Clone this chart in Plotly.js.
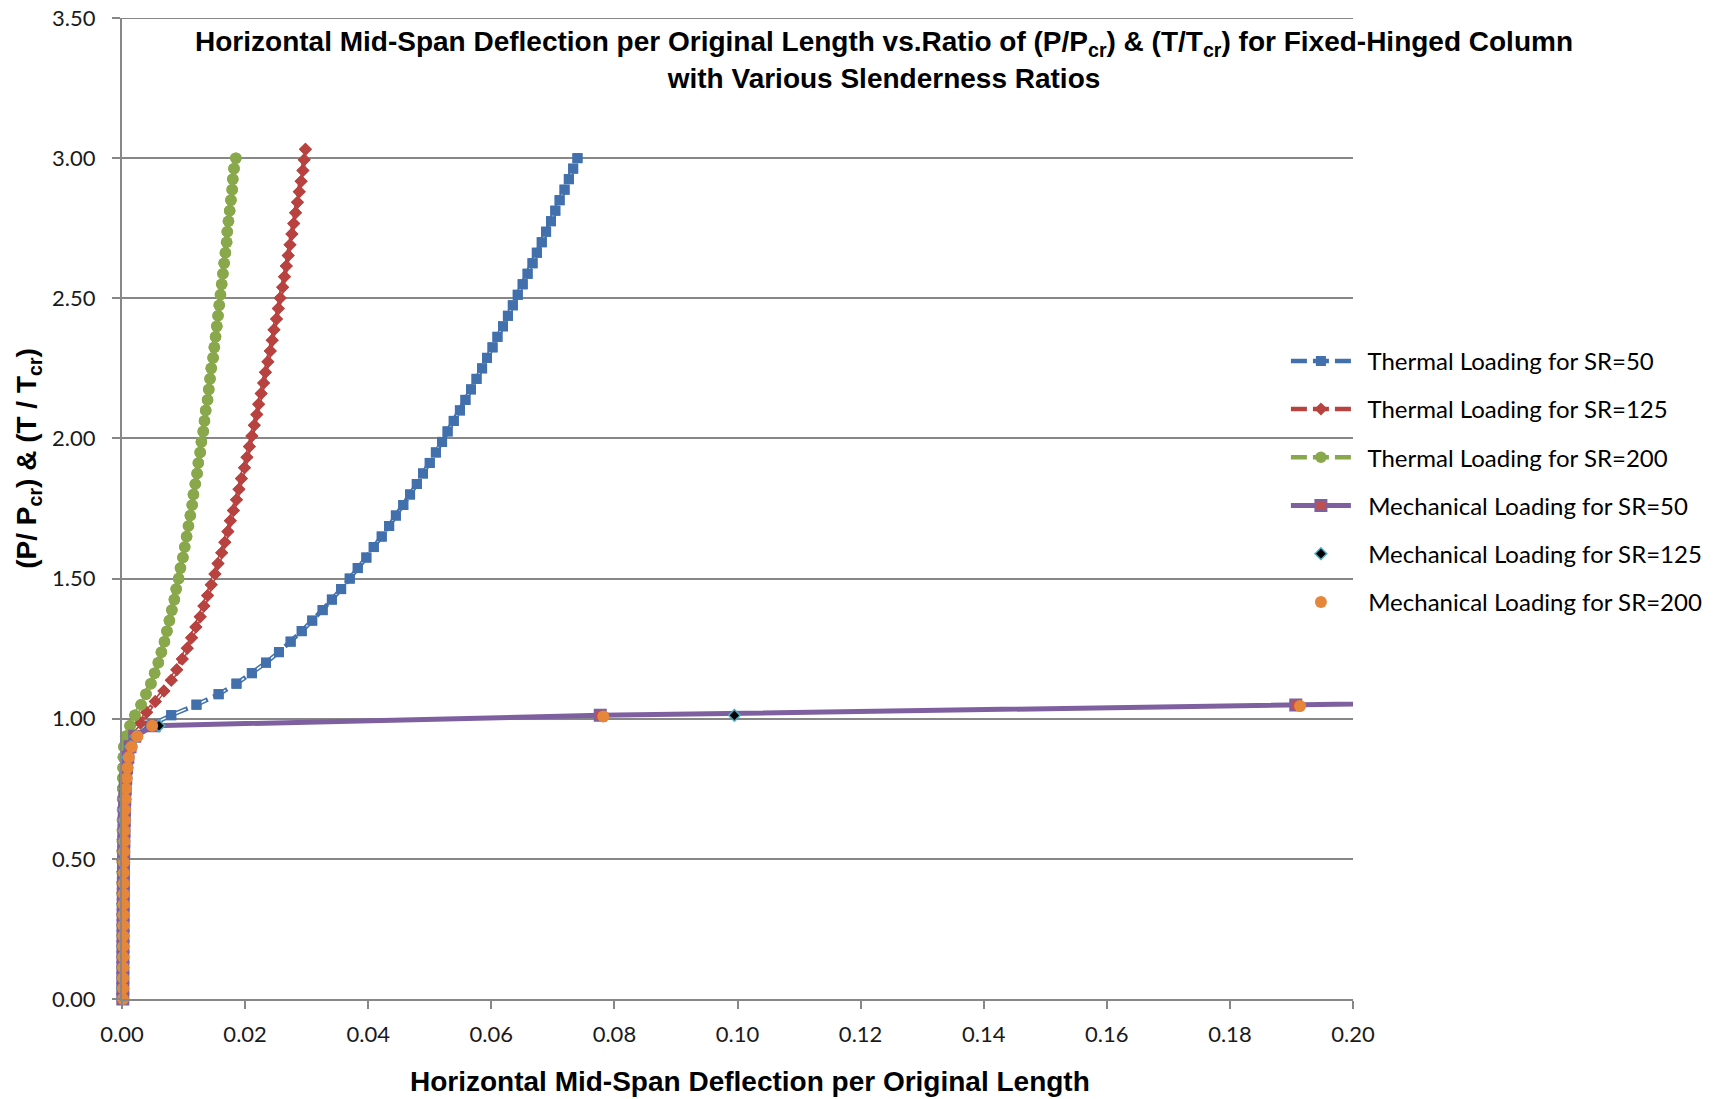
<!DOCTYPE html>
<html>
<head>
<meta charset="utf-8">
<script src="https://cdn.plot.ly/plotly-3.0.1.min.js"></script>
<style>
  html, body { margin: 0; padding: 0; background: #ffffff; }
  #chart { width: 1729px; height: 1099px; }
</style>
</head>
<body>
<div id="chart"></div>
<script>
// Load ratio (T/Tcr) steps used for the thermal runs of SR=50 and SR=200
const thermalRatio = [0, 0.0375, 0.075, 0.1125, 0.15, 0.1875, 0.225, 0.2625, 0.3, 0.3375, 0.375, 0.4125, 0.45, 0.4875, 0.525, 0.5625, 0.6, 0.6375, 0.675, 0.7125, 0.75, 0.7875, 0.825, 0.8625, 0.9, 0.9375, 0.975, 1.0125, 1.05, 1.0875, 1.125, 1.1625, 1.2, 1.2375, 1.275, 1.3125, 1.35, 1.3875, 1.425, 1.4625, 1.5, 1.5375, 1.575, 1.6125, 1.65, 1.6875, 1.725, 1.7625, 1.8, 1.8375, 1.875, 1.9125, 1.95, 1.9875, 2.025, 2.0625, 2.1, 2.1375, 2.175, 2.2125, 2.25, 2.2875, 2.325, 2.3625, 2.4, 2.4375, 2.475, 2.5125, 2.55, 2.5875, 2.625, 2.6625, 2.7, 2.7375, 2.775, 2.8125, 2.85, 2.8875, 2.925, 2.9625, 3.0];

// Load ratio (T/Tcr) steps for the thermal run of SR=125
const thermalRatioSR125 = [0, 0.038, 0.076, 0.114, 0.152, 0.190, 0.227, 0.265, 0.303, 0.341, 0.379, 0.417, 0.455, 0.493, 0.531, 0.569, 0.606, 0.644, 0.682, 0.720, 0.758, 0.796, 0.834, 0.872, 0.910, 0.948, 0.985, 1.023, 1.061, 1.099, 1.137, 1.175, 1.213, 1.251, 1.289, 1.327, 1.364, 1.402, 1.440, 1.478, 1.516, 1.554, 1.592, 1.630, 1.668, 1.706, 1.743, 1.781, 1.819, 1.857, 1.895, 1.933, 1.971, 2.009, 2.047, 2.085, 2.122, 2.160, 2.198, 2.236, 2.274, 2.312, 2.350, 2.388, 2.426, 2.464, 2.501, 2.539, 2.577, 2.615, 2.653, 2.691, 2.729, 2.767, 2.805, 2.843, 2.880, 2.918, 2.956, 2.994, 3.032];

// Mid-span deflection / original length, thermal loading
const thermalDefSR50 = [0.0001, 0.0001, 0.00011, 0.00011, 0.00012, 0.00012, 0.00013, 0.00014, 0.00014, 0.00015, 0.00016, 0.00017, 0.00018, 0.0002, 0.00021, 0.00023, 0.00025, 0.00028, 0.00031, 0.00035, 0.0004, 0.00055, 0.0007, 0.0009, 0.0013, 0.0022, 0.0045, 0.0080, 0.0121, 0.0157, 0.0186, 0.0211, 0.0234, 0.0255, 0.0274, 0.0292, 0.0309, 0.0326, 0.0341, 0.0356, 0.0370, 0.0383, 0.0397, 0.0409, 0.0422, 0.0434, 0.0445, 0.0457, 0.0468, 0.0479, 0.0489, 0.0500, 0.0510, 0.0520, 0.0529, 0.0539, 0.0549, 0.0558, 0.0567, 0.0576, 0.0585, 0.0593, 0.0602, 0.0610, 0.0619, 0.0627, 0.0635, 0.0643, 0.0651, 0.0659, 0.0667, 0.0674, 0.0682, 0.0689, 0.0697, 0.0704, 0.0711, 0.0719, 0.0726, 0.0733, 0.0740];

const thermalDefSR125 = [0.00007, 0.00007, 0.00008, 0.00008, 0.00008, 0.00009, 0.00009, 0.0001, 0.0001, 0.00011, 0.00011, 0.00012, 0.00013, 0.00014, 0.00015, 0.00016, 0.00018, 0.0002, 0.00022, 0.00025, 0.00029, 0.00034, 0.00042, 0.00055, 0.00077, 0.0013, 0.0030, 0.0040, 0.0054, 0.0068, 0.0080, 0.0089, 0.0098, 0.0106, 0.0113, 0.0120, 0.0127, 0.0133, 0.0139, 0.0145, 0.0151, 0.0156, 0.0162, 0.0167, 0.0172, 0.0176, 0.0181, 0.0186, 0.0190, 0.0194, 0.0199, 0.0203, 0.0207, 0.0211, 0.0215, 0.0219, 0.0222, 0.0226, 0.0230, 0.0233, 0.0237, 0.0241, 0.0244, 0.0247, 0.0251, 0.0254, 0.0257, 0.0261, 0.0264, 0.0267, 0.0270, 0.0273, 0.0276, 0.0279, 0.0282, 0.0285, 0.0288, 0.0291, 0.0294, 0.0296, 0.0298];

const thermalDefSR200 = [0.00003, 0.00003, 0.00003, 0.00003, 0.00004, 0.00004, 0.00004, 0.00004, 0.00004, 0.00005, 0.00005, 0.00005, 0.00005, 0.00006, 0.00006, 0.00007, 0.00008, 0.00008, 0.00009, 0.0001, 0.00012, 0.00014, 0.00017, 0.00022, 0.0003, 0.0006, 0.0013, 0.0021, 0.0031, 0.0039, 0.0047, 0.0053, 0.0059, 0.0064, 0.0069, 0.0073, 0.0077, 0.0081, 0.0085, 0.0088, 0.0092, 0.0095, 0.0099, 0.0102, 0.0105, 0.0108, 0.0111, 0.0114, 0.0116, 0.0119, 0.0122, 0.0124, 0.0127, 0.0129, 0.0132, 0.0134, 0.0136, 0.0139, 0.0141, 0.0143, 0.0145, 0.0148, 0.0150, 0.0152, 0.0154, 0.0156, 0.0158, 0.0160, 0.0162, 0.0164, 0.0166, 0.0168, 0.0170, 0.0171, 0.0173, 0.0175, 0.0177, 0.0179, 0.0180, 0.0182, 0.0185];

// Mechanical loading: load ratio (P/Pcr) and deflection per original length
const mechRatioSR50 = [0, 0.0375, 0.075, 0.1125, 0.15, 0.1875, 0.225, 0.2625, 0.3, 0.3375, 0.375, 0.4125, 0.45, 0.4875, 0.525, 0.5625, 0.6, 0.6375, 0.675, 0.7125, 0.75, 0.7875, 0.825, 0.8625, 0.9, 0.9375, 0.975, 1.012, 1.049, 1.085];
const mechDefSR50 = [0.00013, 0.000135, 0.00014, 0.000146, 0.000153, 0.00016, 0.000168, 0.000176, 0.000186, 0.000196, 0.000208, 0.000221, 0.000236, 0.000254, 0.000274, 0.000297, 0.000325, 0.000359, 0.0004, 0.000452, 0.00052, 0.000612, 0.000743, 0.000945, 0.0013, 0.00208, 0.0052, 0.0777, 0.1907, 0.30];

const mechRatioSR125 = [0, 0.0375, 0.075, 0.1125, 0.15, 0.1875, 0.225, 0.2625, 0.3, 0.3375, 0.375, 0.4125, 0.45, 0.4875, 0.525, 0.5625, 0.6, 0.6375, 0.675, 0.7125, 0.75, 0.7875, 0.825, 0.8625, 0.9, 0.9375, 0.975, 1.012];
const mechDefSR125 = [0.00014, 0.00015, 0.00015, 0.00016, 0.00016, 0.00017, 0.00018, 0.00019, 0.0002, 0.00021, 0.00022, 0.00024, 0.00025, 0.00027, 0.00029, 0.00032, 0.00035, 0.00039, 0.00043, 0.00049, 0.00056, 0.00066, 0.0008, 0.001, 0.0014, 0.0023, 0.0060, 0.0995];

const mechRatioSR200 = [0, 0.0375, 0.075, 0.1125, 0.15, 0.1875, 0.225, 0.2625, 0.3, 0.3375, 0.375, 0.4125, 0.45, 0.4875, 0.525, 0.5625, 0.6, 0.6375, 0.675, 0.7125, 0.75, 0.7875, 0.825, 0.8625, 0.9, 0.9375, 0.975, 1.008, 1.045];
const mechDefSR200 = [0.00016, 0.00017, 0.00017, 0.00018, 0.00019, 0.0002, 0.00021, 0.00022, 0.00023, 0.00024, 0.00026, 0.00027, 0.00029, 0.00031, 0.00034, 0.00037, 0.0004, 0.00044, 0.00049, 0.00056, 0.00064, 0.00075, 0.00091, 0.0011, 0.0016, 0.0025, 0.0049, 0.0782, 0.1914];

const seriesNames = [
  'Thermal Loading for SR=50',
  'Thermal Loading for SR=125',
  'Thermal Loading for SR=200',
  'Mechanical Loading for SR=50',
  'Mechanical Loading for SR=125',
  'Mechanical Loading for SR=200'
];

const xTickLabels = ['0.00', '0.02', '0.04', '0.06', '0.08', '0.10', '0.12', '0.14', '0.16', '0.18', '0.20'];
const xTickVals = [0, 0.02, 0.04, 0.06, 0.08, 0.10, 0.12, 0.14, 0.16, 0.18, 0.20];
const yTickLabels = ['0.00', '0.50', '1.00', '1.50', '2.00', '2.50', '3.00', '3.50'];
const yTickVals = [0, 0.5, 1.0, 1.5, 2.0, 2.5, 3.0, 3.5];

// small gap between the legend symbol and its label
const LABEL_PAD = '\u00a0\u00a0';

// Thermal curves use a hollow dashed line: a coloured dash with a thin white dash inside it
const OUTER_DASH = '16px,6px';
const INNER_DASH = '0px,2px,12px,8px';

function thermalTraces(x, y, name, color, symbol, size) {
  const group = name;
  return [
    { // legend entry + coloured dash
      type: 'scatter', mode: 'lines+markers', name: LABEL_PAD + name, legendgroup: group,
      x: x, y: y, cliponaxis: false,
      line: { color: color, width: 4.5, dash: OUTER_DASH },
      marker: { symbol: symbol, size: size, color: color, line: { width: 0 } }
    },
    { // white core of the dash
      type: 'scatter', mode: 'lines', showlegend: false, legendgroup: group, hoverinfo: 'skip',
      x: x, y: y, cliponaxis: false,
      line: { color: '#ffffff', width: 1.5, dash: INNER_DASH }
    },
    { // markers redrawn above the core
      type: 'scatter', mode: 'markers', showlegend: false, legendgroup: group,
      x: x, y: y, name: name, cliponaxis: false,
      marker: { symbol: symbol, size: size, color: color, line: { width: 0 } }
    }
  ];
}

const traces = [].concat(
  thermalTraces(thermalDefSR50, thermalRatio, seriesNames[0], '#4170AD', 'square', 10),
  thermalTraces(thermalDefSR125, thermalRatioSR125, seriesNames[1], '#B8423F', 'diamond', 10),
  thermalTraces(thermalDefSR200, thermalRatio, seriesNames[2], '#88A84B', 'circle', 11.5),
  [
    {
      type: 'scatter', mode: 'lines+markers', name: LABEL_PAD + seriesNames[3], legendgroup: seriesNames[3],
      x: mechDefSR50, y: mechRatioSR50, cliponaxis: false,
      line: { color: '#7E60A0', width: 5 },
      marker: { symbol: 'square', size: 11, color: '#C0504D', line: { color: '#7E60A0', width: 2 } }
    },
    {
      type: 'scatter', mode: 'markers', name: LABEL_PAD + seriesNames[4], legendgroup: seriesNames[4],
      x: mechDefSR125, y: mechRatioSR125, cliponaxis: false,
      marker: { symbol: 'diamond', size: 9, color: '#000000', line: { color: '#4BACC6', width: 1.5 } }
    },
    {
      type: 'scatter', mode: 'markers', name: LABEL_PAD + seriesNames[5], legendgroup: seriesNames[5],
      x: mechDefSR200, y: mechRatioSR200, cliponaxis: false,
      marker: { symbol: 'circle', size: 12, color: '#E5863A', line: { width: 0 } }
    }
  ]
);

const axisGrey = '#878787';
const tickFont = { family: 'Lato, Carlito, sans-serif', size: 22, color: '#1a1a1a' };
const boldFont = { family: '"Liberation Sans", Arial, sans-serif', size: 28, color: '#000000', weight: 700 };

const layout = {
  width: 1729,
  height: 1099,
  paper_bgcolor: '#ffffff',
  plot_bgcolor: '#ffffff',
  margin: { l: 122, r: 376, t: 18, b: 100, pad: 0 },
  showlegend: true,
  title: {
    text: 'Horizontal Mid-Span Deflection per Original Length vs.Ratio of (P/P<sub>cr</sub>) &amp; (T/T<sub>cr</sub>) for Fixed-Hinged Column<br>with Various Slenderness Ratios',
    font: boldFont,
    xref: 'container', yref: 'container',
    x: 0.5113, xanchor: 'center',
    y: 0.9532, yanchor: 'middle',
    automargin: false
  },
  xaxis: {
    range: [0, 0.2],
    tickmode: 'array', tickvals: xTickVals, ticktext: xTickLabels,
    showgrid: false, zeroline: false,
    showline: true, linecolor: axisGrey, linewidth: 2,
    ticks: 'outside', ticklen: 8, tickwidth: 2, tickcolor: axisGrey,
    tickfont: tickFont, ticklabelstandoff: 7,
    fixedrange: true
  },
  yaxis: {
    range: [0, 3.5],
    tickmode: 'array', tickvals: yTickVals, ticktext: yTickLabels,
    showgrid: true, gridcolor: axisGrey, gridwidth: 2,
    zeroline: false,
    showline: true, linecolor: axisGrey, linewidth: 2,
    ticks: 'outside', ticklen: 8, tickwidth: 2, tickcolor: axisGrey,
    tickfont: tickFont, ticklabelstandoff: 12,
    fixedrange: true
  },
  shapes: [
    { // top gridline of the value axis
      type: 'line', xref: 'paper', yref: 'y', x0: 0, x1: 1, y0: 3.5, y1: 3.5,
      line: { color: axisGrey, width: 2 }, layer: 'below'
    }
  ],
  legend: {
    x: 0.9455, xanchor: 'left',
    y: 0.673, yanchor: 'top',
    bgcolor: 'rgba(0,0,0,0)',
    borderwidth: 0,
    font: { family: 'Lato, Carlito, sans-serif', size: 24, color: '#000000' },
    itemwidth: 60,
    tracegroupgap: 14,
    traceorder: 'grouped',
    itemclick: false, itemdoubleclick: false
  },
  annotations: [
    {
      text: 'Horizontal Mid-Span Deflection per Original Length',
      xref: 'paper', yref: 'paper', x: 0.5104, y: -0.0836,
      xanchor: 'center', yanchor: 'middle', showarrow: false,
      font: boldFont
    },
    {
      text: '(P/ P<sub>cr</sub>) &amp; (T / T<sub>cr</sub>)',
      xref: 'paper', yref: 'paper', x: -0.0759, y: 0.5513,
      xanchor: 'center', yanchor: 'middle', showarrow: false,
      textangle: -90,
      font: boldFont
    }
  ]
};

Plotly.newPlot('chart', traces, layout, { staticPlot: true, displayModeBar: false });
</script>
</body>
</html>
